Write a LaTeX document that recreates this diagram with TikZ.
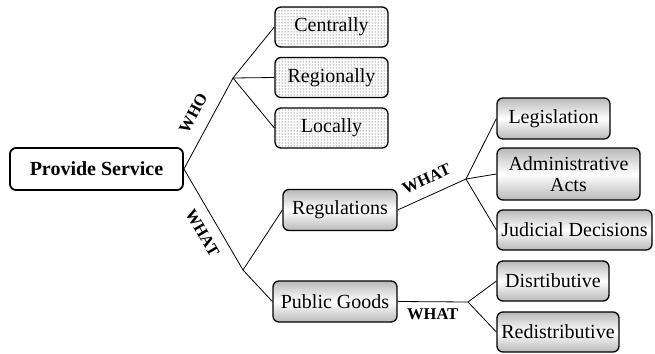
\documentclass[tikz,border=0pt]{standalone}
\usepackage{fontspec}
\setmainfont{Liberation Serif}
\usepackage{tikz}
\usetikzlibrary{patterns, positioning}

\begin{document}
\begin{tikzpicture}[x=1pt, y=-1pt, font=\fontsize{20}{22}\selectfont]
        % Setup the styles for the boxes
        \tikzset{root style/.style={draw, rounded corners=6pt,
                                    line width=1.8pt,
                                    minimum width=173pt,
                                    minimum height=42pt,
                                    font=\fontsize{20}{22}\selectfont\bfseries},
                 who style/.style={draw, rounded corners=6pt,
                                   line width=1.3pt,
                                   minimum width=113pt,
                                   minimum height=40pt,
                                   preaction={fill=white},
                                   pattern=dots,
                                   pattern color=black!85},
                 what style/.style={draw, rounded corners=6pt,
                                    line width=1.3pt,
                                    minimum height=41pt,
                                    align=center,
                                    top color=gray!55,
                                    bottom color=gray!55,
                                    middle color=white},
                 link/.style={line width=0.8pt},
                 tag/.style={font=\fontsize{16.5}{18}\selectfont\bfseries, sloped}}
        \useasboundingbox (0,0) rectangle (655,353);

        % Draw the boxes
        \node[root style] at (96.5, 169)   (service)  {Provide Service};
        \node[who style]  at (331.5, 27)   (central)  {Centrally};
        \node[who style]  at (331.5, 77.5) (regional) {Regionally};
        \node[who style]  at (331.5, 128)  (local)    {Locally};
        \node[what style, minimum width=114pt] at (340, 210)   (regulation) {Regulations};
        \node[what style, minimum width=124pt] at (335, 301.5) (goods)      {Public Goods};
        \node[what style, minimum width=113pt] at (553.5, 118.5) (legislation) {Legislation};
        \node[what style, minimum width=143pt, minimum height=52pt,
              inner sep=1pt, font=\fontsize{20}{21}\selectfont] at (568.5, 174) (admin) {Administrative\\Acts};
        \node[what style, minimum width=155pt, minimum height=40pt] at (574.5, 230) (judicial) {Judicial Decisions};
        \node[what style, minimum width=112pt, minimum height=40pt] at (553, 281)   (distrib)   {Disrtibutive};
        \node[what style, minimum width=122pt, minimum height=40pt] at (558, 332)   (redistrib) {Redistributive};

        % Branch points
        \coordinate (who fork)   at (233, 78);
        \coordinate (what fork)  at (243, 270);
        \coordinate (regu fork)  at (466, 179);
        \coordinate (goods fork) at (468, 302);

        % Connect the boxes
        \draw[link] (service.east) -- node[tag, above=9pt, pos=0.52] {WHO} (who fork);
        \draw[link] (service.east) -- node[tag, below=7pt, pos=0.55] {WHAT} (what fork);
        \draw[link] (who fork) -- (central.west);
        \draw[link] (who fork) -- (regional.west);
        \draw[link] (who fork) -- (local.west);
        \draw[link] (what fork) -- (regulation.west);
        \draw[link] (what fork) -- (goods.west);
        \draw[link] (regulation.east) -- node[tag, above=7pt, pos=0.52] {WHAT} (regu fork);
        \draw[link] (regu fork) -- (legislation.west);
        \draw[link] (regu fork) -- (admin.west);
        \draw[link] (regu fork) -- (judicial.west);
        \draw[link] (goods.east) -- node[tag, below=3pt, pos=0.5] {WHAT} (goods fork);
        \draw[link] (goods fork) -- (distrib.west);
        \draw[link] (goods fork) -- (redistrib.west);
\end{tikzpicture}
\end{document}
